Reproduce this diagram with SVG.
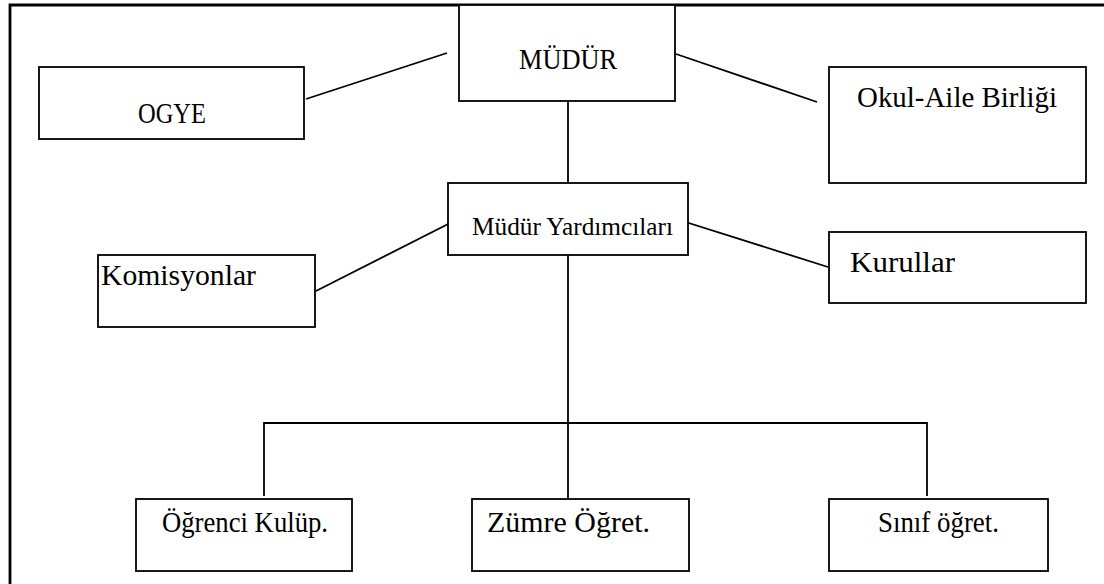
<svg xmlns="http://www.w3.org/2000/svg" width="1104" height="584" viewBox="0 0 1104 584">
<style>
.box{fill:#fff;stroke:#000;stroke-width:1.8}
.ln{stroke:#000;stroke-width:1.8;fill:none}
.frame{stroke:#000;stroke-width:2.8;fill:none}
text{font-family:"Liberation Serif","DejaVu Serif",serif;fill:#000;font-size:30px}
.sm{font-size:25px}
</style>
<rect width="1104" height="584" fill="#fff"/>
<path class="frame" d="M10,584 V5 H1104"/>
<g id="connectors">
<line class="ln" x1="306" y1="99" x2="447" y2="53"/>
<line class="ln" x1="676" y1="54" x2="817" y2="102"/>
<line class="ln" x1="568" y1="101" x2="568" y2="183"/>
<line class="ln" x1="458" y1="219" x2="316" y2="291"/>
<line class="ln" x1="676" y1="219" x2="828" y2="267"/>
<line class="ln" x1="568" y1="255" x2="568" y2="499"/>
<polyline class="ln" points="264,496 264,423 927,423 927,496"/>
</g>
<g id="mudur">
<rect class="box" x="459" y="5" width="216" height="96"/>
<text x="519" y="69" textLength="98" lengthAdjust="spacingAndGlyphs">MÜDÜR</text>
</g>
<g id="ogye">
<rect class="box" x="39" y="67" width="265" height="72"/>
<text x="138" y="123" textLength="68" lengthAdjust="spacingAndGlyphs">OGYE</text>
</g>
<g id="okul-aile">
<rect class="box" x="829" y="67" width="257" height="116"/>
<text x="857" y="107" textLength="200" lengthAdjust="spacingAndGlyphs">Okul-Aile Birliği</text>
</g>
<g id="mudur-yardimcilari">
<rect class="box" x="448" y="183" width="240" height="72"/>
<text class="sm" x="472" y="235" textLength="201" lengthAdjust="spacingAndGlyphs">Müdür Yardımcıları</text>
</g>
<g id="komisyonlar">
<rect class="box" x="98" y="255" width="217" height="72"/>
<text x="101" y="285" textLength="155" lengthAdjust="spacingAndGlyphs">Komisyonlar</text>
</g>
<g id="kurullar">
<rect class="box" x="829" y="232" width="257" height="71"/>
<text x="850" y="272" textLength="105" lengthAdjust="spacingAndGlyphs">Kurullar</text>
</g>
<g id="ogrenci-kulup">
<rect class="box" x="136" y="499" width="216" height="72"/>
<text x="162" y="532" textLength="166" lengthAdjust="spacingAndGlyphs">Öğrenci Kulüp.</text>
</g>
<g id="zumre-ogret">
<rect class="box" x="472" y="499" width="217" height="72"/>
<text x="487" y="532" textLength="163" lengthAdjust="spacingAndGlyphs">Zümre Öğret.</text>
</g>
<g id="sinif-ogret">
<rect class="box" x="829" y="499" width="219" height="72"/>
<text x="878" y="532" textLength="121" lengthAdjust="spacingAndGlyphs">Sınıf öğret.</text>
</g>
</svg>
